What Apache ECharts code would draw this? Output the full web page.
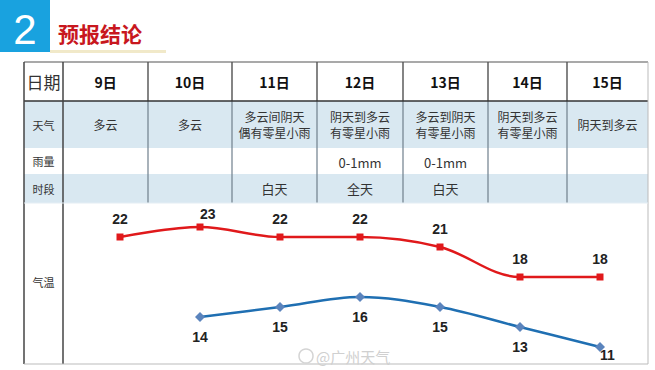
<!DOCTYPE html>
<html><head><meta charset="utf-8">
<script src="https://cdn.jsdelivr.net/npm/echarts@6/dist/echarts.min.js"></script>
<style>html,body{margin:0;padding:0;background:#fff}#c{width:655px;height:370px}</style>
</head><body><div id="c"></div>
<script>
const days = ['9日','10日','11日','12日','13日','14日','15日'];
const weather = ['多云','多云','多云间阴天\n偶有零星小雨','阴天到多云\n有零星小雨','多云到阴天\n有零星小雨','阴天到多云\n有零星小雨','阴天到多云'];
const rain = ['','','','0-1mm','0-1mm','',''];
const period = ['','','白天','全天','白天','',''];
const rowLabels = ['日期','天气','雨量','时段','气温'];
const highTemp = [22,23,22,22,21,18,18];
const lowTemp = [null,14,15,16,15,13,11];
const titleNum = '2';
const titleText = '预报结论';
const watermark = '@广州天气';

const CJK = '"Noto Sans CJK SC", sans-serif';
const colX = [24,63,148,232,317,403,488,567,648];
const rowY = [62,101,148,174,203,364];
const g = [];
// header
g.push({type:'rect',shape:{x:0,y:0,width:50,height:52},style:{fill:'#19a2df'}});
g.push({type:'text',x:25,y:29,style:{text:titleNum,fill:'#fff',font:'42px "Liberation Sans", sans-serif',align:'center',verticalAlign:'middle'}});
g.push({type:'text',x:58,y:33,style:{text:titleText,fill:'#c8171e',font:'bold 21px '+CJK,verticalAlign:'middle'}});
g.push({type:'rect',shape:{x:50,y:50,width:116,height:3},style:{fill:'#f1e9c9'}});
// row backgrounds
g.push({type:'rect',shape:{x:colX[0],y:rowY[1],width:colX[8]-colX[0],height:rowY[2]-rowY[1]},style:{fill:'#d9e8f1'}});
g.push({type:'rect',shape:{x:colX[0],y:rowY[3],width:colX[8]-colX[0],height:rowY[4]-rowY[3]},style:{fill:'#d9e8f1'}});
function ln(x1,y1,x2,y2,c,w){g.push({type:'line',shape:{x1,y1,x2,y2},style:{stroke:c,lineWidth:w||1}});}
// vertical lines between day columns
for(let i=2;i<8;i++){ ln(colX[i],rowY[0],colX[i],rowY[1],'#333',1.2); ln(colX[i],rowY[1],colX[i],rowY[4],'#6f7f8c',1.2); }
ln(colX[0],rowY[0],colX[8],rowY[0],'#555',1.2);
ln(colX[0],rowY[1],colX[8],rowY[1],'#333',1.5);
ln(colX[0],rowY[0],colX[0],rowY[5],'#444',1.5);
ln(colX[1],rowY[0],colX[1],rowY[5],'#444',1.5);
ln(colX[8],rowY[0],colX[8],rowY[5],'#bbb',1);
ln(colX[0],rowY[5],colX[8],rowY[5],'#bbb',1);
ln(colX[0],rowY[4],colX[8],rowY[4],'#e4eef4',1);
// left labels
const lcx = (colX[0]+colX[1])/2;
rowLabels.forEach((t,i)=>{
  const cy = (rowY[i]+rowY[i+1])/2 + (i===4? -2 : 0);
  g.push({type:'text',x:lcx,y:cy,style:{text:t,fill:'#333',font:(i===0?'17px ':'11px ')+CJK,align:'center',verticalAlign:'middle'}});
});
for(let i=0;i<7;i++){
  const cx=(colX[i+1]+colX[i+2])/2;
  g.push({type:'text',x:cx,y:(rowY[0]+rowY[1])/2,style:{text:days[i],fill:'#111',font:'bold 14px '+CJK,align:'center',verticalAlign:'middle'}});
  g.push({type:'text',x:cx,y:(rowY[1]+rowY[2])/2,style:{text:weather[i],fill:'#333',font:'12px '+CJK,lineHeight:16,align:'center',verticalAlign:'middle'}});
  g.push({type:'text',x:cx,y:(rowY[2]+rowY[3])/2+1,style:{text:rain[i],fill:'#333',font:'13px '+CJK,align:'center',verticalAlign:'middle'}});
  g.push({type:'text',x:cx,y:(rowY[3]+rowY[4])/2,style:{text:period[i],fill:'#333',font:'13px '+CJK,align:'center',verticalAlign:'middle'}});
}
// watermark
g.push({type:'circle',shape:{cx:306,cy:356,r:7},style:{fill:'none',stroke:'#d4d4d4',lineWidth:1.5}});
g.push({type:'text',x:316,y:356,style:{text:watermark,fill:'#d0d0d0',font:'15px '+CJK,verticalAlign:'middle'}});

const chart = echarts.init(document.getElementById('c'),null,{renderer:'svg'});
const lblFont = {fontWeight:'bold',fontSize:14,color:'#222',fontFamily:'"Liberation Sans", sans-serif'};
chart.setOption({
  animation:false,
  grid:{left:80,right:15,top:207,height:150},
  xAxis:{type:'category',data:days,boundaryGap:true,show:false},
  yAxis:{type:'value',min:10,max:25,show:false},
  graphic:{elements:g},
  series:[
    {type:'line',data:highTemp,smooth:0.35,symbol:'rect',symbolSize:7,z:3,
     lineStyle:{color:'#e0191b',width:2.5},itemStyle:{color:'#e0191b'},
     label:Object.assign({show:true,position:'top',distance:8},lblFont),
     labelLayout:function(p){ if(p.labelRect.y<206){return {y:p.labelRect.y+5};} return {}; }},
    {type:'line',data:lowTemp,smooth:0.35,symbol:'diamond',symbolSize:10,z:3,
     lineStyle:{color:'#1f6fb2',width:2.5},itemStyle:{color:'#5b84bd'},
     label:Object.assign({show:true,position:'bottom',distance:8},lblFont),
     labelLayout:function(p){ if(p.labelRect.y+p.labelRect.height>362){return {y:p.labelRect.y-12};} return {}; }}
  ]
});
</script></body></html>
